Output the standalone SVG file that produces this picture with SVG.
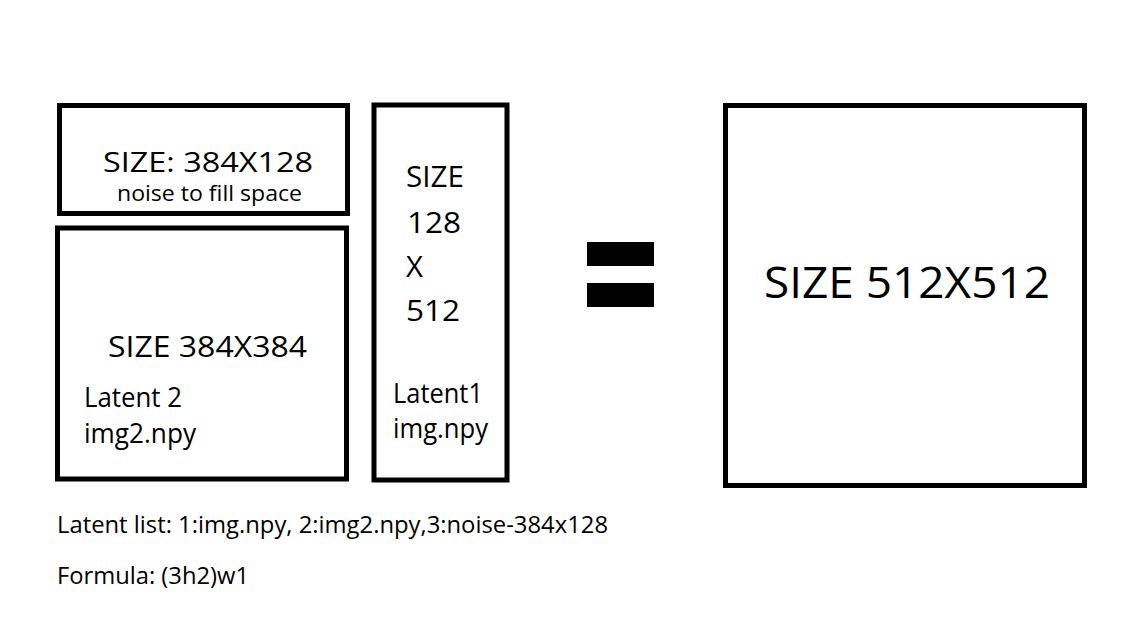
<svg xmlns="http://www.w3.org/2000/svg" width="1138" height="644" viewBox="0 0 1138 644">
<style>
.box{fill:#fff;stroke:#000;stroke-width:5}
text{font-family:"Open Sans","Noto Sans","Liberation Sans",sans-serif;fill:#000}
</style>
<rect width="1138" height="644" fill="#fff"/>
<g id="noise">
<rect class="box" x="59.5" y="105.5" width="288" height="108"/>
<text x="103" y="172" font-size="27.5" textLength="210" lengthAdjust="spacingAndGlyphs">SIZE: 384X128</text>
<text x="117" y="201" font-size="22" textLength="185" lengthAdjust="spacingAndGlyphs">noise to fill space</text>
</g>
<g id="latent2">
<rect class="box" x="57.5" y="228" width="289" height="251"/>
<text x="108" y="357" font-size="30" textLength="199" lengthAdjust="spacingAndGlyphs">SIZE 384X384</text>
<text x="84" y="407" font-size="28" textLength="98" lengthAdjust="spacingAndGlyphs">Latent 2</text>
<text x="84" y="443" font-size="27" textLength="112" lengthAdjust="spacingAndGlyphs">img2.npy</text>
</g>
<g id="latent1">
<rect class="box" x="374" y="105" width="133" height="375"/>
<text x="406" y="187" font-size="29.5" textLength="58" lengthAdjust="spacingAndGlyphs">SIZE</text>
<text x="407" y="233" font-size="29.5" textLength="54" lengthAdjust="spacingAndGlyphs">128</text>
<text x="406" y="277" font-size="29.5" textLength="17" lengthAdjust="spacingAndGlyphs">X</text>
<text x="406" y="321" font-size="29.5" textLength="54" lengthAdjust="spacingAndGlyphs">512</text>
<text x="393" y="403" font-size="27.5" textLength="90" lengthAdjust="spacingAndGlyphs">Latent1</text>
<text x="393" y="438" font-size="27" textLength="95" lengthAdjust="spacingAndGlyphs">img.npy</text>
</g>
<g id="equals">
<rect x="587" y="242" width="67" height="24" fill="#000"/>
<rect x="587" y="283" width="67" height="24" fill="#000"/>
</g>
<g id="result">
<rect class="box" x="725.5" y="105.5" width="359" height="380"/>
<text x="764" y="298" font-size="43" textLength="286" lengthAdjust="spacingAndGlyphs">SIZE 512X512</text>
</g>
<g id="connectors"></g>
<g id="notes">
<text x="57" y="533" font-size="23" textLength="551" lengthAdjust="spacingAndGlyphs">Latent list: 1:img.npy, 2:img2.npy,3:noise-384x128</text>
<text x="57" y="584" font-size="24" textLength="192" lengthAdjust="spacingAndGlyphs">Formula: (3h2)w1</text>
</g>
</svg>
